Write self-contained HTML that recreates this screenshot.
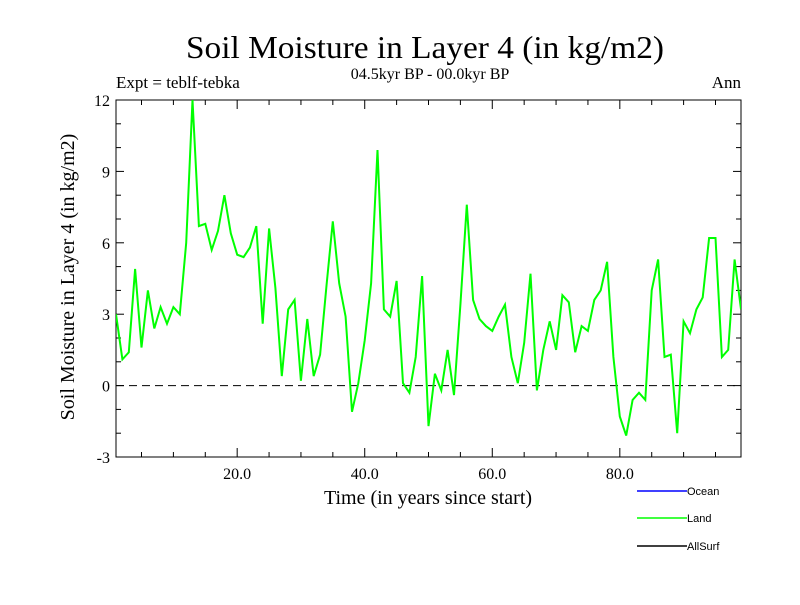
<!DOCTYPE html>
<html><head><meta charset="utf-8"><style>
body{margin:0;background:#fff;}
svg text{font-family:"Liberation Serif",serif;fill:#000;}
</style></head><body>
<svg id="chart" width="800" height="600" viewBox="0 0 800 600" xmlns="http://www.w3.org/2000/svg">
<text x="425" y="58" font-size="32" text-anchor="middle" textLength="478" lengthAdjust="spacingAndGlyphs">Soil Moisture in Layer 4 (in kg/m2)</text>
<text x="430" y="79" font-size="16" text-anchor="middle">04.5kyr BP - 00.0kyr BP</text>
<text x="116" y="88" font-size="17">Expt = teblf-tebka</text>
<text x="741" y="88" font-size="17" text-anchor="end">Ann</text>
<text transform="translate(74,277) rotate(-90)" font-size="20" text-anchor="middle">Soil Moisture in Layer 4 (in kg/m2)</text>
<text x="428" y="504" font-size="20" text-anchor="middle">Time (in years since start)</text>
<g id="axes"></g>
<g id="series"></g>
<g>
<line x1="637" y1="491" x2="687" y2="491" stroke="#0000ff" stroke-width="1.5"/>
<text x="687" y="495" font-size="11" style="font-family:'Liberation Sans',sans-serif">Ocean</text>
<line x1="637" y1="518" x2="687" y2="518" stroke="#00ff00" stroke-width="1.5"/>
<text x="687" y="522" font-size="11" style="font-family:'Liberation Sans',sans-serif">Land</text>
<line x1="637" y1="546" x2="687" y2="546" stroke="#000" stroke-width="1.5"/>
<text x="687" y="550" font-size="11" style="font-family:'Liberation Sans',sans-serif">AllSurf</text>
</g>
</svg>
<script>
const years = Array.from({length:99},(_, i)=>i+1);
const landValues = [3.0,1.1,1.4,4.9,1.6,4.0,2.4,3.3,2.6,3.3,
3.0,6.0,12.0,6.7,6.8,5.7,6.5,8.0,6.4,5.5,
5.4,5.8,6.7,2.6,6.6,4.1,0.4,3.2,3.6,0.2,
2.8,0.4,1.3,4.2,6.9,4.3,2.9,-1.1,0.1,1.9,
4.3,9.9,3.2,2.9,4.4,0.1,-0.3,1.2,4.6,-1.7,
0.5,-0.2,1.5,-0.4,3.4,7.6,3.6,2.8,2.5,2.3,
2.9,3.4,1.2,0.1,1.8,4.7,-0.2,1.5,2.7,1.5,
3.8,3.5,1.4,2.5,2.3,3.6,4.0,5.2,1.2,-1.3,
-2.1,-0.6,-0.3,-0.6,4.0,5.3,1.2,1.3,-2.0,2.7,
2.2,3.2,3.7,6.2,6.2,1.2,1.5,5.3,3.2];
const yTicks = [-3,0,3,6,9,12];
const yTickLabels = ["-3","0","3","6","9","12"];
const xTicks = [20,40,60,80];
const xTickLabels = ["20.0","40.0","60.0","80.0"];
const X0=116, X1=741, Y0=457, Y1=100;
const xMin=1, xMax=99, yMin=-3, yMax=12;
const xs=v=>X0+(v-xMin)/(xMax-xMin)*(X1-X0);
const ys=v=>Y0-(v-yMin)/(yMax-yMin)*(Y0-Y1);
const NS="http://www.w3.org/2000/svg";
const axes=document.getElementById('axes');
function mk(tag,attrs,parent){const e=document.createElementNS(NS,tag);for(const k in attrs)e.setAttribute(k,attrs[k]);parent.appendChild(e);return e;}
const frame=mk('rect',{x:X0,y:Y1,width:X1-X0,height:Y0-Y1,fill:'none',stroke:'#000','stroke-width':1},axes);


const zl=mk('line',{x1:X0,x2:X1,y1:ys(0),y2:ys(0),stroke:'#000','stroke-dasharray':'8,5','stroke-width':1},axes);


for(let v=yMin;v<=yMax;v++){const major=(v%3===0);const L=major?8:5;
const t1=mk('line',{x1:X0,x2:X0+L,y1:ys(v),y2:ys(v),stroke:'#000'},axes);


const t2=mk('line',{x1:X1,x2:X1-L,y1:ys(v),y2:ys(v),stroke:'#000'},axes);

}
yTicks.forEach((v,i)=>{const t=mk('text',{x:X0-6,y:ys(v)+6,'font-size':16,'text-anchor':'end'},axes);t.textContent=yTickLabels[i];

});
for(let v=5;v<xMax;v+=5){const major=(v%20===0);const L=major?9:5;
const a=mk('line',{x1:xs(v),x2:xs(v),y1:Y0,y2:Y0-L,stroke:'#000'},axes);


const b=mk('line',{x1:xs(v),x2:xs(v),y1:Y1,y2:Y1+L,stroke:'#000'},axes);

}
xTicks.forEach((v,i)=>{const t=mk('text',{x:xs(v),y:Y0+22,'font-size':16,'text-anchor':'middle'},axes);t.textContent=xTickLabels[i];

});
const defs=mk('defs',{},axes);const cp=mk('clipPath',{id:'clip'},defs);mk('rect',{x:X0,y:Y1-3,width:X1-X0,height:Y0-Y1+6},cp);
const pts=years.map((y,i)=>xs(y).toFixed(1)+','+ys(landValues[i]).toFixed(1)).join(' ');
const pl=mk('polyline',{points:pts,fill:'none',stroke:'#00ff00','stroke-width':2,'clip-path':'url(#clip)'},document.getElementById('series'));


</script>
</body></html>
